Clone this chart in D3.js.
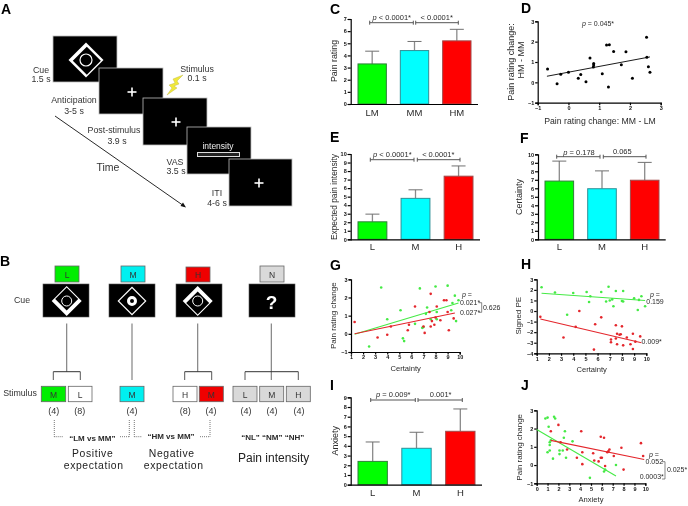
<!DOCTYPE html>
<html><head><meta charset="utf-8">
<script src="https://d3js.org/d3.v7.min.js"></script>
<style>html,body{margin:0;padding:0;background:#fff}svg{display:block;filter:blur(0.3px)}text{font-family:"Liberation Sans",Arial,sans-serif}</style>
</head><body><svg id="c" width="688" height="506"></svg>
<script>
// ---- data ----
const catsC = ["LM","MM","HM"], catsLMH = ["L","M","H"];
const barC = [3.3,4.4,5.2],   errC = [4.35,5.15,6.15];
const barE = [2.05,4.8,7.4],  errE = [2.95,5.8,8.6];
const barF = [6.85,5.95,6.95],errF = [9.2,8.05,9.05];
const barI = [2.4,3.75,5.5],  errI = [4.4,5.4,7.8];
const barColors = ["#00ff00","#00ffff","#ff0000"];
const barEdges = ["#2f7f3a","#2f8f96","#a04a4a"];
const ptsD = [[-.68,.65],[-.37,-.07],[-.25,.4],[0,.5],[.32,.2],[.4,.38],[.57,.03],[.7,1.2],[.81,.75],[.82,.93],[.82,.85],[1.1,.42],[1.24,1.83],[1.3,-.23],[1.33,1.85],[1.47,1.52],[1.72,.87],[1.87,1.5],[2.08,.2],[2.54,2.22],[2.55,1.23],[2.6,.77],[2.65,.5]];
const lineD = [[-.7,.3],[2.65,1.25]];
const ptsGgreen = [[2.5,-.7],[3.5,2.55],[4,.8],[5.1,1.3],[5.3,-.25],[5.4,-.4],[6.3,.55],[6.7,2.5],[6.9,.33],[7,.37],[7.2,1.1],[7.3,1.45],[7.6,.8],[8,2.6],[8.1,1.2],[8.1,.8],[9,2.65],[9.3,1.3],[9.4,1.7],[9.6,2.1],[9.7,.7],[9.9,1.85]];
const ptsGred = [[1.3,.65],[3.2,-.2],[4,-.05],[4.3,.4],[5.7,.2],[5.8,.5],[6.3,1.5],[7,.4],[7.1,.05],[7.5,1.2],[7.6,2.2],[7.6,.4],[7.7,.7],[7.9,.5],[8,.9],[8.1,1.5],[8.4,.75],[8.7,1.85],[8.9,1.85],[9,1.2],[9.1,.2],[9.5,.85]];
const lineGgreen = [[1.3,-.02],[9.9,1.7]], lineGred = [[1.3,0],[9.6,1.15]];
const ptsHgreen = [[1.4,2.25],[2.5,1.75],[3.5,-.35],[4,1.7],[5.1,1.8],[5.3,.85],[5.4,1.4],[6.3,1.8],[6.7,.9],[6.9,2.3],[7,1],[7.2,1.1],[7.3,.45],[7.5,1.9],[8,.95],[8.1,.9],[8.1,1.9],[9,1.2],[9.3,.1],[9.4,1.05],[9.6,1.4],[9.9,.45]];
const ptsHred = [[1.3,-.55],[3.2,-2.5],[4.2,-1.5],[4.5,0],[5.7,-3.65],[5.8,-1.25],[6.3,-.6],[7.1,-2.7],[7.1,-2.95],[7.5,-1.35],[7.5,-2.6],[7.6,-2.15],[7.6,-3.15],[7.8,-2.25],[7.9,-2.2],[8,-1.45],[8.1,-3.25],[8.4,-2.5],[8.7,-3.15],[8.9,-2.15],[8.9,-3.6],[9.1,-2.9],[9.5,-2.4]];
const lineHgreen = [[1.4,1.68],[9.9,1]], lineHred = [[1.3,-.75],[9.6,-3]];
const ptsJgreen = [[.8,2.55],[1,2.6],[1.1,2.1],[1,.7],[1.2,.8],[1.2,1.1],[1.2,1.25],[1.3,1.35],[1.5,.35],[1.6,2.65],[1.7,2.55],[2.1,.6],[2.1,.8],[2.4,.8],[2.5,1.5],[2.6,1.85],[2.7,.4],[3.3,1.3],[4.9,-.7],[6.2,-.35],[6.3,-.25],[7.3,0]];
const ptsJred = [[1.3,1.85],[2,2.2],[2.2,1.25],[2.8,.85],[3.7,.4],[4.1,1.85],[4.2,.7],[4.2,.05],[5.2,.65],[5.3,.25],[5.7,.2],[5.9,1.55],[5.9,.4],[6,.4],[6.2,1.5],[6.3,-.05],[6.5,.7],[6.6,.75],[6.7,.85],[7.1,.5],[7.8,.95],[8,-.25],[9.6,1.2],[9.8,.5]];
const lineJgreen = [[0,1.95],[7.3,-.6]], lineJred = [[1.3,1.35],[9.9,.3]];

const GREEN="#45ea45", RED="#e4262c", TXT="#2a2a2a";
const svg=d3.select("#c");

function T(x,y,s,o={}){
  const t=svg.append("text").attr("x",x).attr("y",y).text(s)
    .attr("text-anchor",o.a||"middle").attr("dominant-baseline","central")
    .attr("font-size",o.s||8).attr("fill",o.c||TXT);
  if(o.b)t.attr("font-weight","bold");
  if(o.ls)t.attr("letter-spacing",o.ls);
  if(o.r!==undefined)t.attr("transform",`rotate(${o.r} ${x} ${y})`);
  return t;
}
function L(x1,y1,x2,y2,c,w,d){const l=svg.append("line").attr("x1",x1).attr("y1",y1).attr("x2",x2).attr("y2",y2).attr("stroke",c||"#333").attr("stroke-width",w||1);if(d)l.attr("stroke-dasharray",d);return l;}
function R(x0,y0,x1,y1,f,s,w){return svg.append("rect").attr("x",x0).attr("y",y0).attr("width",x1-x0).attr("height",y1-y0).attr("fill",f).attr("stroke",s||"none").attr("stroke-width",w||1);}
function Letter(s,x,y){svg.append("text").attr("x",x).attr("y",y).text(s).attr("font-size",14).attr("font-weight","bold").attr("fill","#000");}
function styleAxis(g,sz,w){
  g.selectAll("path,line").attr("stroke","#000").attr("stroke-width",w||1.2);
  g.selectAll("text").attr("font-size",sz).attr("fill","#111").attr("font-weight","bold").attr("font-family",'"Liberation Sans",Arial,sans-serif');
}
function barPanel(cats,vals,errs,o){
  const y=d3.scaleLinear().domain([0,o.ymax]).range([o.y0,o.y1]);
  const x=d3.scaleBand().domain(cats).range(o.bars).paddingInner(.33).paddingOuter(0);
  const gy=svg.append("g").attr("transform",`translate(${o.ax},0)`).call(d3.axisLeft(y).ticks(o.ymax).tickSize(3).tickPadding(1));
  styleAxis(gy,5.5);
  cats.forEach((c,i)=>{
    const cx=x(c)+x.bandwidth()/2;
    L(cx,y(vals[i]),cx,y(errs[i]),"#8a8a8a",1.3);
    L(cx-7,y(errs[i]),cx+7,y(errs[i]),"#707070",1);
    R(x(c),y(vals[i]),x(c)+x.bandwidth(),o.y0,barColors[i],barEdges[i],1);
  });
  const gx=svg.append("g").attr("transform",`translate(0,${o.y0})`).call(d3.axisBottom(x).tickSize(0).tickPadding(o.pad||5));
  gx.select("path").attr("d",`M${o.ax},0.5H${o.xend}`);
  styleAxis(gx,9.5);
  gx.selectAll("text").attr("font-weight","normal").attr("fill",TXT);
}
function bracket(x0,x1,y){L(x0,y,x1,y,"#555",1);L(x0,y-2,x0,y+2,"#555",1);L(x1,y-2,x1,y+2,"#555",1);}
function scatPanel(o){
  const x=d3.scaleLinear().domain(o.xd).range([o.x0,o.x1]);
  const y=d3.scaleLinear().domain(o.yd).range([o.y0,o.y1]);
  const gx=svg.append("g").attr("transform",`translate(0,${o.y0})`).call(d3.axisBottom(x).tickValues(d3.range(o.xd[0],o.xd[1]+1)).tickSize(2.5).tickPadding(1).tickFormat(d3.format("d")));
  const gy=svg.append("g").attr("transform",`translate(${o.x0},0)`).call(d3.axisLeft(y).tickValues(d3.range(o.yd[0],o.yd[1]+1)).tickSize(2.5).tickPadding(1).tickFormat(d3.format("d")));
  styleAxis(gx,5.5);styleAxis(gy,5.5);
  const ln=d3.line().x(d=>x(d[0])).y(d=>y(d[1]));
  o.series.forEach(s=>{
    svg.append("g").selectAll("circle").data(s.pts).join("circle").attr("cx",d=>x(d[0])).attr("cy",d=>y(d[1])).attr("r",s.r||1.3).attr("fill",s.c);
    svg.append("path").attr("d",ln(s.line)).attr("fill","none").attr("stroke",s.lc||s.c).attr("stroke-width",s.w||1.1);
  });
}
// ---- Panel A ----
Letter("A",1,13.5);
function screen(x0,y0,x1,y1){R(x0,y0,x1,y1,"#000","#bdbdbd",.8);}
function cross(cx,cy){L(cx-4.5,cy,cx+4.5,cy,"#fff",1.6);L(cx,cy-4.5,cx,cy+4.5,"#fff",1.6);}
function diamond(cx,cy,h,inner,dx,dy,r,rw){
  svg.append("path").attr("fill","#fff").attr("d",`M${cx},${cy-h}L${cx+h},${cy}L${cx},${cy+h}L${cx-h},${cy}Z`);
  const ix=cx+dx, iy=cy+dy;
  svg.append("path").attr("fill","#000").attr("d",`M${ix},${iy-inner}L${ix+inner},${iy}L${ix},${iy+inner}L${ix-inner},${iy}Z`);
  svg.append("circle").attr("cx",cx).attr("cy",cy).attr("r",r).attr("fill","none").attr("stroke","#fff").attr("stroke-width",rw);
}
screen(53,36,117,82);diamond(86,60,17.5,14,.8,.8,6,1.2);
screen(99,68,163,114);cross(132,92);
screen(143,98,207,145);cross(176,122);
screen(187,127,251,174);
T(218,146,"intensity",{c:"#eee",s:8.5});R(197.5,152.5,239.5,156.5,"#222","#ddd",1);
screen(229,159,292,206);cross(259,183);
svg.append("path").attr("fill","#f0e83a").attr("stroke","#b8b040").attr("stroke-width",.4).attr("d","M183,75L173,79L175,83L169,85L172,88L167,95L177,88L174,86L179,84L177,81Z");
L(55,116,184,206,"#111",.9);
svg.append("path").attr("d","M186,207.5L180.5,206L183,202.5Z").attr("fill","#111");
const A9={s:8.8,c:"#333"};
T(41,70,"Cue",A9);T(41,79,"1.5 s",A9);
T(197,69,"Stimulus",A9);T(197,78,"0.1 s",A9);
T(74,100,"Anticipation",A9);T(74,111,"3-5 s",A9);
T(114,130,"Post-stimulus",A9);T(117,141,"3.9 s",A9);
T(175,162,"VAS",A9);T(176,171,"3.5 s",A9);
T(217,193,"ITI",A9);T(217,203,"4-6 s",A9);
T(108,167,"Time",{s:10.5,c:"#333"});
// ---- Panel B ----
Letter("B",0,265.5);
[[55,266,79,282,"#00ee00","L"],[121,266,145,282,"#00f0f0","M"],[186,267,210,282,"#f00000","H"],[260,266,284,282,"#d9d9d9","N"]].forEach(b=>{
  R(b[0],b[1],b[2],b[3],b[4],"#666",.8);T((b[0]+b[2])/2,(b[1]+b[3])/2+.5,b[5],{s:8.5,c:"#333"});});
[[43,89],[109,155],[176,222],[249,295]].forEach(b=>R(b[0],284,b[1],317,"#000","#555",.6));
diamond(66.7,301,15,11.5,0,-2,5,1);
diamond(132,301,14.5,12.8,0,0,3.5,3);
diamond(197.7,301,15,11.5,0,2,5,1);
T(271.6,302,"?",{s:19,c:"#fff",b:1});
T(22,300,"Cue",{s:8.8,c:"#333"});
[[66.7,371.7],[132,380],[197.7,371.7],[271.3,380]].forEach(v=>L(v[0],323.5,v[0],v[1],"#777",1.1));
[[53.3,80.3],[184.7,211.7],[245,298.3]].forEach(b=>{L(b[0],371.7,b[1],371.7,"#333",1);L(b[0],371.7,b[0],380,"#444",.9);L(b[1],371.7,b[1],380,"#444",.9);});
T(20,393,"Stimulus",{s:8.8,c:"#333"});
[[41.3,65.7,"#00ee00","M"],[68.3,92,"#fff","L"],[120,144,"#00f0f0","M"],[173,197,"#fff","H"],[199.3,223.3,"#f00000","M"],[233,257,"#d9d9d9","L"],[259.7,283.7,"#d9d9d9","M"],[286.3,310.3,"#d9d9d9","H"]].forEach(b=>{
  R(b[0],386.3,b[1],401.7,b[2],"#666",.8);T((b[0]+b[1])/2,394.5,b[3],{s:8.5,c:"#333"});});
[[53.7,"(4)"],[79.7,"(8)"],[132,"(4)"],[185.3,"(8)"],[211,"(4)"],[246,"(4)"],[272,"(4)"],[299,"(4)"]].forEach(b=>T(b[0],410.5,b[1],{s:9,c:"#333"}));
const dot="1 1";
L(54.3,420,54.3,436.7,"#555",.8,dot);L(54.3,436.7,63,436.7,"#555",.8,dot);L(120,436.7,129.3,436.7,"#555",.8,dot);L(129.3,420,129.3,436.7,"#555",.8,dot);
L(134.3,420,134.3,436.7,"#555",.8,dot);L(134.3,436.7,142,436.7,"#555",.8,dot);L(200,436.7,210,436.7,"#555",.8,dot);L(210,420,210,436.7,"#555",.8,dot);
T(92.3,438,"“LM vs MM”",{s:8,b:1});T(171,436.7,"“HM vs MM”",{s:8,b:1});T(272.7,437.3,"“NL” “NM” “NH”",{s:8,b:1});
const B11={s:10.4,c:"#222",ls:.6};
T(92.7,453,"Positive",B11);T(93.7,465.4,"expectation",B11);
T(171.7,453,"Negative",B11);T(173.7,465.4,"expectation",B11);
T(273.7,457.7,"Pain intensity",{s:12,c:"#222"});
// ---- Panel C ----
Letter("C",330,13.5);
barPanel(catsC,barC,errC,{ymax:7,y0:104,y1:19,ax:350.7,xend:478,bars:[358,471],pad:5});
T(333.5,61,"Pain rating",{s:8.8,r:-90});
T(391.7,17.3,"p < 0.0001*",{s:7.5});T(436.7,17,"< 0.0001*",{s:7.5});
bracket(369.7,413.3,22.7);bracket(415.7,458.3,22.7);
// ---- Panel D ----
Letter("D",521,13);
scatPanel({xd:[-1,3],yd:[-1,3],x0:537.7,x1:660.7,y0:102.7,y1:21.3,series:[{pts:ptsD,line:lineD,c:"#000",r:1.5,w:.9}]});
T(510.5,62,"Pain rating change:",{s:9,r:-90});T(520.7,60,"HM - MM",{s:9,r:-90});
T(600,120.7,"Pain rating change: MM - LM",{s:8.7});
T(598,23,"p = 0.045*",{s:7});
// ---- Panel E ----
Letter("E",330,142);
barPanel(catsLMH,barE,errE,{ymax:10,y0:239.3,y1:154,ax:350.7,xend:480,bars:[358,473],pad:4});
T(333.5,197,"Expected pain intensity",{s:8.4,r:-90});
T(392.3,154.3,"p < 0.0001*",{s:7.5});T(438.3,154.3,"< 0.0001*",{s:7.5});
bracket(370.3,414,159.7);bracket(417.3,460,159.7);
// ---- Panel F ----
Letter("F",520,143);
barPanel(catsLMH,barF,errF,{ymax:10,y0:239.3,y1:154.3,ax:538,xend:665.7,bars:[545,659],pad:4});
T(519,197,"Certainty",{s:9,r:-90});
T(579,151.7,"p = 0.178",{s:7.5});T(622.3,151.7,"0.065",{s:7.5});
bracket(556.7,600,156.7);bracket(603.3,646,156.7);
// ---- Panel G ----
Letter("G",330,270);
scatPanel({xd:[1,10],yd:[-1,3],x0:351,x1:459.7,y0:352,y1:279.3,series:[{pts:ptsGgreen,line:lineGgreen,c:GREEN},{pts:ptsGred,line:lineGred,c:RED}]});
T(334,315.7,"Pain rating change",{s:8,r:-90});T(405.7,368,"Certainty",{s:7.6});
T(467,294,"p =",{s:7});T(470,302,"0.021*",{s:7});T(470,312.3,"0.027*",{s:7});T(491.7,307.3,"0.626",{s:7});
svg.append("path").attr("d","M478.5,302.7H481.7V312.3H478.5").attr("fill","none").attr("stroke","#555").attr("stroke-width",.7);
// ---- Panel H ----
Letter("H",521,269);
scatPanel({xd:[1,10],yd:[-4,3],x0:536.7,x1:646.3,y0:353.3,y1:279.3,series:[{pts:ptsHgreen,line:lineHgreen,c:GREEN},{pts:ptsHred,line:lineHred,c:RED}]});
T(519,315.7,"Signed PE",{s:8,r:-90});T(591.7,369,"Certainty",{s:7.6});
T(655,294.3,"p =",{s:7});T(655,301,"0.159",{s:7});T(651.7,341.7,"0.009*",{s:7});
// ---- Panel I ----
Letter("I",330,390);
barPanel(catsLMH,barI,errI,{ymax:9,y0:484.7,y1:397.3,ax:350.7,xend:482,bars:[358,475],pad:5});
T(335.3,440.7,"Anxiety",{s:9,r:-90});
T(393.3,394.3,"p = 0.009*",{s:7.5});T(440.7,394.3,"0.001*",{s:7.5});
bracket(370.7,415.3,400);bracket(418,462.3,400);
// ---- Panel J ----
Letter("J",521,390);
scatPanel({xd:[0,10],yd:[-1,3],x0:536.7,x1:645.3,y0:483.3,y1:410.3,series:[{pts:ptsJgreen,line:lineJgreen,c:GREEN},{pts:ptsJred,line:lineJred,c:RED}]});
T(520,447.3,"Pain rating change",{s:8,r:-90});T(591,499.3,"Anxiety",{s:7.6});
T(654,454,"p =",{s:7});T(654.3,461,"0.052",{s:7});T(677,469,"0.025*",{s:7});T(651.7,476.7,"0.0003*",{s:7});
svg.append("path").attr("d","M662,461.7H665V479H662").attr("fill","none").attr("stroke","#555").attr("stroke-width",.7);
svg.selectAll("text").filter(function(){return /^p [=<]/.test(this.textContent)}).each(function(){
  const el=d3.select(this),s=el.text();el.text(null);
  el.append("tspan").attr("font-style","italic").text("p");el.append("tspan").text(s.slice(1));
});
</script></body></html>
